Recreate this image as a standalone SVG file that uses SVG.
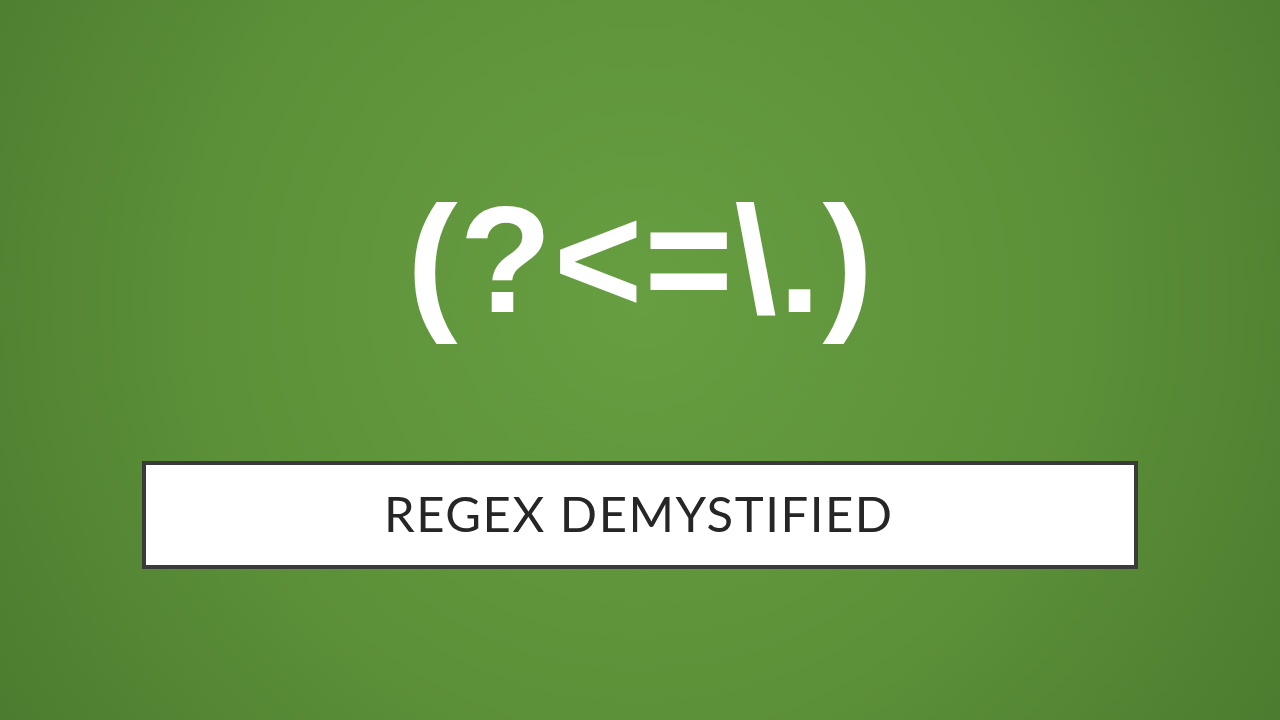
<svg xmlns="http://www.w3.org/2000/svg" width="1280" height="720" viewBox="0 0 1280 720">
  <defs>
    <radialGradient id="bg" cx="640" cy="300" r="760" gradientUnits="userSpaceOnUse">
      <stop offset="0" stop-color="#679e41"/>
      <stop offset="0.55" stop-color="#5d9139"/>
      <stop offset="1" stop-color="#4c7c2f"/>
    </radialGradient>
  </defs>
  <style>
    .big { font-family: "Liberation Sans", Arial, sans-serif; font-weight: bold; fill: #ffffff; }
    .sub { font-family: Lato, "Open Sans", sans-serif; font-weight: 400; fill: #262626; }
  </style>
  <rect x="0" y="0" width="1280" height="720" fill="url(#bg)"/>
  <g id="regex">
    <text class="big" x="640" y="312" font-size="152" text-anchor="middle" textLength="466" lengthAdjust="spacing">(?&lt;=\.)</text>
  </g>
  <g id="title-box">
    <rect x="144" y="463" width="992" height="104" fill="#ffffff" stroke="#3a3a3a" stroke-width="4"/>
    <text class="sub" x="638" y="532" font-size="49" text-anchor="middle" textLength="508" lengthAdjust="spacing">REGEX DEMYSTIFIED</text>
  </g>
</svg>
